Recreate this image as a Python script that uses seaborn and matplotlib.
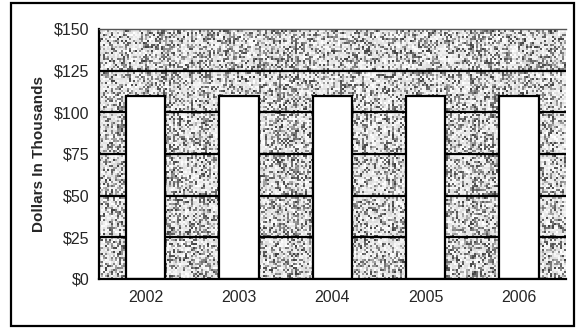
import numpy as np
import pandas as pd
import matplotlib
matplotlib.use("Agg")
import matplotlib.pyplot as plt
import seaborn as sns

years = ["2002", "2003", "2004", "2005", "2006"]
values = [110, 110, 110, 110, 110]
y_ticks = [0, 25, 50, 75, 100, 125, 150]
y_tick_labels = ["$0", "$25", "$50", "$75", "$100", "$125", "$150"]

sns.set_style("white")
plt.rcParams["font.family"] = ["Liberation Sans", "DejaVu Sans"]

df = pd.DataFrame({"year": years, "value": values})

fig = plt.figure(figsize=(5.76, 3.29), dpi=100)
ax = fig.add_axes([0.172, 0.152, 0.81, 0.76])

# grainy, speckled gray fill behind the bars
rng = np.random.default_rng(7)
h, w = 125, 233
cols = 0.55 + 0.35 * rng.random((1, w))          # vertical streaks
dark = rng.random((h, w)) < (0.55 - 0.35 * (cols - 0.55) / 0.35)
tex = np.where(dark, 0.25 + 0.45 * rng.random((h, w)), 0.85 + 0.15 * rng.random((h, w)))
ax.imshow(tex, cmap="gray", vmin=0, vmax=1, aspect="auto",
          extent=(-0.5, 4.5, 0, 150), zorder=0, interpolation="nearest")

for t in y_ticks[1:-1]:
    ax.axhline(t, color="black", lw=1.6, zorder=1)

sns.barplot(data=df, x="year", y="value", color="white", edgecolor="black",
            linewidth=1.6, width=0.42, ax=ax, zorder=2, saturation=1)

ax.set_xlim(-0.5, 4.5)
ax.set_ylim(0, 150)
ax.set_yticks(y_ticks)
ax.set_yticklabels(y_tick_labels, fontsize=11.5)
ax.set_xticks([0.5, 1.5, 2.5, 3.5, 4.5], minor=False)
ax.set_xticklabels([])
ax.set_xticks(range(5), minor=True)
ax.set_xticklabels(years, minor=True, fontsize=11.5)
ax.tick_params(axis="x", which="minor", length=0, pad=8)
ax.tick_params(axis="x", which="major", length=4, width=1.2, color="black", direction="out")
ax.tick_params(axis="y", length=4, width=1.2, color="black", direction="out", pad=3)
ax.set_xlabel("")
ax.set_ylabel("Dollars In Thousands", fontsize=11, fontweight="bold", labelpad=6)

for side in ["left", "bottom"]:
    ax.spines[side].set_color("black")
    ax.spines[side].set_linewidth(1.6)
ax.spines["top"].set_color("#555555")
ax.spines["top"].set_linewidth(1.0)
ax.spines["right"].set_visible(False)

# outer frame around the whole chart
fig.patches.append(plt.Rectangle((0.019, 0.008), 0.978, 0.982, transform=fig.transFigure,
                                 fill=False, edgecolor="black", lw=1.6))

fig.savefig("out.png", dpi=100)
